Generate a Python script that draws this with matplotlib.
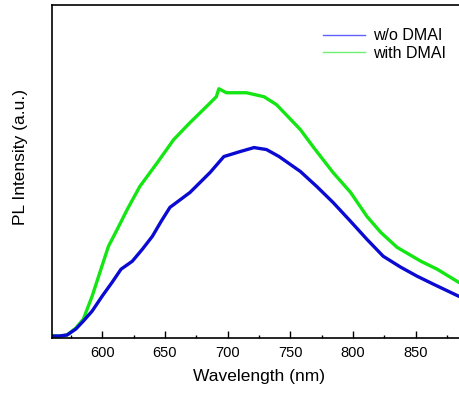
import matplotlib
matplotlib.use("Agg")
import matplotlib.pyplot as plt
from matplotlib.lines import Line2D
from matplotlib.ticker import MultipleLocator

plt.rcParams['font.family'] = ['Liberation Sans', 'DejaVu Sans']

# valores (intensidade em unidades arbitrarias)
wl_blue = [560, 566, 572, 579, 585, 592, 600, 608, 615, 624, 632, 640, 647,
           654, 670, 686, 697, 710, 721, 731, 741, 758, 771, 784, 798,
           811, 824, 838, 851, 864, 884, 890]
pl_blue = [1, 1, 2, 8, 16, 26, 41, 55, 68, 76, 88, 101, 116,
           130, 145, 165, 181, 186, 190, 188, 181, 166, 151, 135, 116,
           98, 81, 70, 61, 53, 41, 38]

wl_green = [560, 566, 572, 579, 585, 592, 599, 605, 612, 620, 630, 644, 657,
            670, 683, 691, 693, 699, 715, 729, 739, 758, 768, 784, 798,
            811, 822, 835, 854, 867, 884, 890]
pl_green = [1, 1, 2, 9, 18, 41, 68, 91, 108, 128, 151, 175, 198,
            215, 231, 241, 249, 245, 245, 241, 233, 208, 191, 165, 145,
            121, 105, 90, 76, 68, 55, 52]

labels = ['w/o DMAI', 'with DMAI']
cores = ['#0a0ad2', '#14e614']

fig = plt.figure(figsize=(4.59, 3.94), dpi=100)
# eixo passa da borda direita, como no original (figura cortada)
ax = fig.add_axes([52 / 459, 56 / 394, 414 / 459, 333 / 394])

ax.plot(wl_green, pl_green, color=cores[1], lw=2.4)
ax.plot(wl_blue, pl_blue, color=cores[0], lw=2.4)

ax.set_xlim(560, 890)
ax.set_ylim(-1, 333)
ax.xaxis.set_major_locator(MultipleLocator(50))
ax.xaxis.set_minor_locator(MultipleLocator(25))
ax.tick_params(axis='x', which='major', direction='in', length=5, width=1, labelsize=10.5, pad=6)
ax.tick_params(axis='x', which='minor', direction='in', length=2.5, width=1)
ax.set_yticks([])
for s in ax.spines.values():
    s.set_linewidth(1.2)

ax.set_xlabel('Wavelength (nm)', fontsize=12.5, labelpad=6)
ax.set_ylabel('PL Intensity (a.u.)', fontsize=12.5)
ax.yaxis.set_label_coords(-24 / 414, 0.544)

handles = [Line2D([], [], color='#6060ff', lw=1),
           Line2D([], [], color='#70f070', lw=1)]
ax.legend(handles, labels, loc='upper right', bbox_to_anchor=(460 / 459, 1 - 14 / 394),
          bbox_transform=fig.transFigure, frameon=False, fontsize=11.5,
          handlelength=2.6, handletextpad=0.5, labelspacing=0.15)

fig.savefig('out.png', dpi=100)
